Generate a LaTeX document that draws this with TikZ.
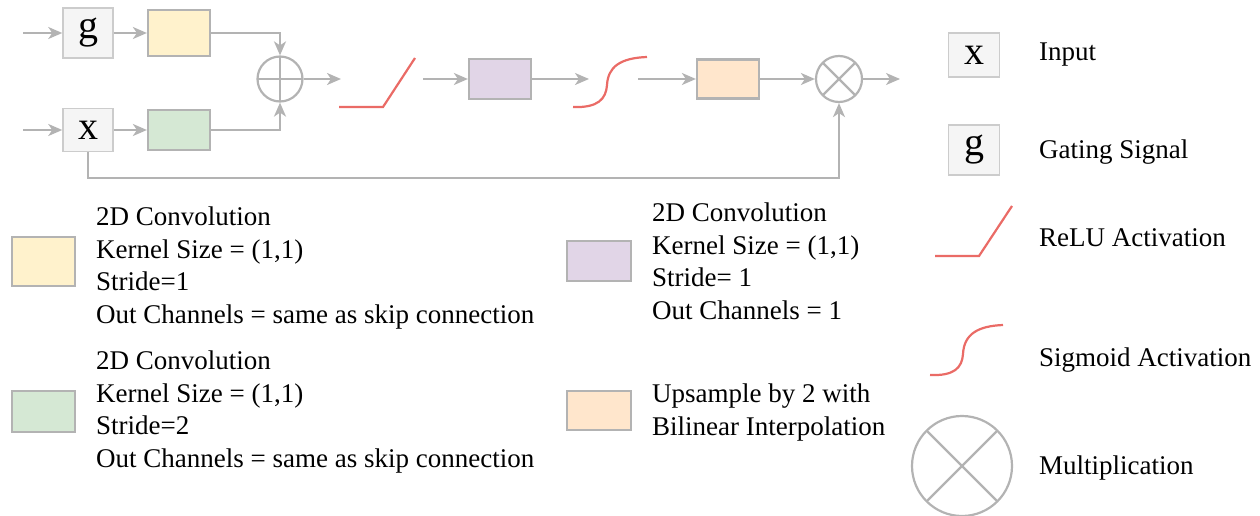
\documentclass[tikz,border=0pt]{standalone}
\usepackage{fontspec}
\setmainfont{Liberation Serif}
\usetikzlibrary{arrows.meta,positioning}

\definecolor{linegray}{HTML}{B3B3B3}
\definecolor{boxgray}{HTML}{CCCCCC}
\definecolor{inputfill}{HTML}{F5F5F5}
\definecolor{convyellow}{HTML}{FFF2CC}
\definecolor{convgreen}{HTML}{D5E8D4}
\definecolor{convpurple}{HTML}{E1D5E7}
\definecolor{convorange}{HTML}{FFE6CC}
\definecolor{actred}{HTML}{EA6B66}

\begin{document}
\begin{tikzpicture}[x=1pt,y=-1pt,
  >={Stealth[length=14pt,width=12pt,inset=4pt]},
  arr/.style={->,draw=linegray,line width=2.2pt},
  inbox/.style={draw=boxgray,fill=inputfill,line width=1.5pt,minimum width=50pt,inner sep=0,font=\fontsize{40}{40}\selectfont},
  conv/.style={draw=linegray,line width=2.2pt,minimum width=62pt,inner sep=0},
  op/.style={circle,draw=linegray,line width=2.2pt,inner sep=0,minimum size=45pt},
  addop/.style={op,path picture={\draw[linegray,line width=2.2pt] (path picture bounding box.north) -- (path picture bounding box.south) (path picture bounding box.west) -- (path picture bounding box.east);}},
  mulop/.style={op,path picture={\draw[linegray,line width=2.2pt] (path picture bounding box.north west) -- (path picture bounding box.south east) (path picture bounding box.north east) -- (path picture bounding box.south west);}},
  act/.style={draw=actred,line width=2.2pt},
  legtext/.style={anchor=north west,inner sep=0,align=left,font=\fontsize{27}{32.5}\selectfont},
  itemtext/.style={anchor=base west,inner sep=0,font=\fontsize{27}{27}\selectfont}]

  \useasboundingbox (0,0) rectangle (1260,516);

  % attention gate
  \coordinate (gin) at (23,33);
  \coordinate (xin) at (23,130);
  \node[inbox,minimum height=50pt] (g) at (88,33) {g};
  \node[inbox,minimum height=43pt] (x) at (88,130) {x};
  \node[conv,fill=convyellow,minimum height=46pt] (convg) at (179,33) {};
  \node[conv,fill=convgreen,minimum height=40pt] (convx) at (179,130) {};
  \node[addop] (add) at (280,79) {};
  \coordinate (relu) at (377,79);
  \node[conv,fill=convpurple,minimum height=40pt] (psi) at (500,79) {};
  \coordinate (sig) at (610,79);
  \node[conv,fill=convorange,minimum height=39pt] (up) at (728,79) {};
  \node[op,mulop,minimum size=46pt] (mul) at (839,79) {};
  \coordinate (out) at (900,79);

  \draw[act] (relu) ++(-38,28) -- ++(44,0) -- ++(32,-49);
  \begin{scope}[shift={(sig)}]
    \draw[act] (-37,28) .. controls (-12,29) and (-4,20) .. (-3,6)
               .. controls (-2,-12) and (10,-21) .. (37,-22);
  \end{scope}

  \path (gin) edge[arr] (g)
        (g) edge[arr] (convg)
        (xin) edge[arr] (x)
        (x) edge[arr] (convx)
        (add) edge[arr,shorten >=36pt] (relu)
        (relu) edge[arr,shorten <=46pt] (psi)
        (psi) edge[arr,shorten >=21pt] (sig)
        (sig) edge[arr,shorten <=28pt] (up)
        (up) edge[arr] (mul)
        (mul) edge[arr] (out);
  \draw[arr] (convg) -| (add);
  \draw[arr] (convx) -| (add);
  \draw[arr] (x) -- ++(0,48) -| (mul);

  % legend, blocks
  \node[conv,fill=convyellow,minimum width=63pt,minimum height=49pt] (legconvg) at (43.5,261.5) {};
  \node[legtext] (legconvgtext) at (96,206.6) {2D Convolution\\Kernel Size = (1,1)\\Stride=1\\Out Channels = same as skip connection};
  \node[conv,fill=convgreen,minimum width=63pt,minimum height=41pt] (legconvx) at (43.5,411.5) {};
  \node[legtext] (legconvxtext) at (96,350.6) {2D Convolution\\Kernel Size = (1,1)\\Stride=2\\Out Channels = same as skip connection};
  \node[conv,fill=convpurple,minimum width=64pt,minimum height=40pt] (legpsi) at (599,261) {};
  \node[legtext] (legpsitext) at (652,202.6) {2D Convolution\\Kernel Size = (1,1)\\Stride= 1\\Out Channels = 1};
  \node[conv,fill=convorange,minimum width=64pt,minimum height=39pt] (legup) at (599,410.5) {};
  \node[legtext] (leguptext) at (652,383.6) {Upsample by 2 with\\Bilinear Interpolation};

  % legend, symbols
  \node[inbox,minimum width=51pt,minimum height=44pt] (legx) at (974,55) {x};
  \node[itemtext] (legxtext) at (1039,61) {Input};
  \node[inbox,minimum width=51pt,minimum height=50pt] (legg) at (974,150) {g};
  \node[itemtext] (leggtext) at (1039,158) {Gating Signal};
  \coordinate (legrelu) at (973,231);
  \draw[act] (legrelu) ++(-38,25) -- ++(44,0) -- ++(33,-50);
  \node[itemtext] (legrelutext) at (1039,246) {ReLU Activation};
  \coordinate (legsig) at (966,350);
  \begin{scope}[shift={(legsig)}]
    \draw[act] (-36,25) .. controls (-12,26) and (-4,18) .. (-3,4)
               .. controls (-2,-16) and (12,-24) .. (37,-25);
  \end{scope}
  \node[itemtext] (legsigtext) at (1039,366) {Sigmoid Activation};
  \node[op,mulop,minimum size=100pt] (legmul) at (962,466) {};
  \node[itemtext] (legmultext) at (1039,474) {Multiplication};
\end{tikzpicture}
\end{document}
